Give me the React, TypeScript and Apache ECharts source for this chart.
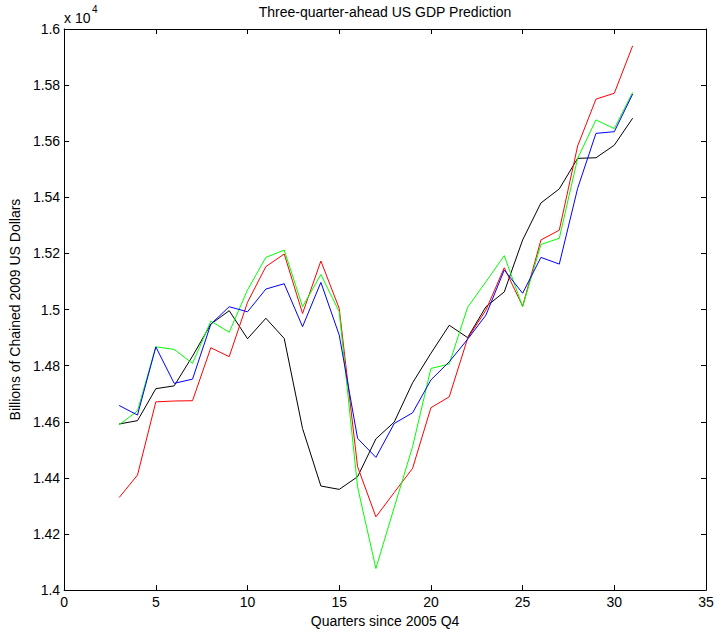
import React, { useEffect, useRef } from "react";
import * as echarts from "echarts";

const quarters = [3, 4, 5, 6, 7, 8, 9, 10, 11, 12, 13, 14, 15, 16, 17, 18, 19, 20, 21, 22, 23, 24, 25, 26, 27, 28, 29, 30, 31];
const actual = [14592, 14604, 14718, 14728, 14834, 14948, 14996, 14896, 14969, 14897, 14576, 14371, 14359, 14404, 14539, 14599, 14739, 14844, 14944, 14900, 15010, 15063, 15248, 15380, 15430, 15539, 15541, 15586, 15682];
const predRed = [14330, 14410, 14671, 14674, 14675, 14864, 14832, 15026, 15153, 15198, 14986, 15173, 15004, 14440, 14261, 14348, 14434, 14650, 14689, 14897, 14998, 15149, 15012, 15248, 15283, 15583, 15750, 15771, 15940];
const predGreen = [14589, 14639, 14867, 14858, 14808, 14959, 14919, 15070, 15186, 15212, 15010, 15125, 14992, 14368, 14077, 14295, 14511, 14790, 14806, 15008, 15099, 15192, 15010, 15232, 15254, 15539, 15676, 15645, 15774];
const predBlue = [14658, 14624, 14867, 14737, 14752, 14948, 15010, 14992, 15073, 15092, 14939, 15097, 14909, 14541, 14473, 14594, 14632, 14749, 14814, 14894, 14980, 15141, 15058, 15186, 15162, 15432, 15628, 15634, 15768];

const titleText = "Three-quarter-ahead US GDP Prediction";
const xName = "Quarters since 2005 Q4";
const yName = "Billions of Chained 2009 US Dollars";

const FONT = "Liberation Sans";

export default function App() {
  const ref = useRef<HTMLDivElement>(null);
  useEffect(() => {
    if (!ref.current) return;
    const chart = echarts.init(ref.current, null, { renderer: "svg" });
    const mk = (vals: number[], color: string, name: string) => ({
      type: "line",
      name,
      data: quarters.map((q, i) => [q, vals[i]]),
      showSymbol: false,
      symbol: "none",
      lineStyle: { color, width: 1 },
      itemStyle: { color },
      xAxisIndex: 0,
      yAxisIndex: 0,
    });
    const axisCommon = {
      axisLine: { show: true, onZero: false, lineStyle: { color: "#000", width: 1 } },
      axisTick: { show: true, inside: true, length: 5, lineStyle: { color: "#000", width: 1 } },
      splitLine: { show: false },
    };
    chart.setOption({
      animation: false,
      backgroundColor: "#fff",
      textStyle: { fontFamily: FONT },
      grid: { left: 64, top: 29, width: 642, height: 562, containLabel: false },
      xAxis: [
        {
          type: "value",
          min: 0,
          max: 35,
          interval: 5,
          position: "bottom",
          ...axisCommon,
          axisLabel: { color: "#000", fontSize: 14, fontFamily: FONT, margin: 5 },
          name: xName,
          nameLocation: "middle",
          nameGap: 23,
          nameTextStyle: { color: "#000", fontSize: 14, fontFamily: FONT },
        },
        {
          type: "value",
          min: 0,
          max: 35,
          interval: 5,
          position: "top",
          ...axisCommon,
          axisLabel: { show: false },
        },
      ],
      yAxis: [
        {
          type: "value",
          min: 14000,
          max: 16000,
          interval: 200,
          position: "left",
          ...axisCommon,
          axisLabel: {
            color: "#000",
            fontSize: 14,
            fontFamily: FONT,
            margin: 4,
            formatter: (v: number) => String(Number((v / 10000).toFixed(2))),
          },
          name: yName,
          nameLocation: "middle",
          nameGap: 41,
          nameTextStyle: { color: "#000", fontSize: 14, fontFamily: FONT },
        },
        {
          type: "value",
          min: 14000,
          max: 16000,
          interval: 200,
          position: "right",
          ...axisCommon,
          axisLabel: { show: false },
        },
      ],
      graphic: [
        {
          type: "text",
          x: 385,
          y: 5,
          style: { text: titleText, fill: "#000", font: `14px "${FONT}"`, textAlign: "center" },
        },
        {
          type: "text",
          x: 64,
          y: 11,
          style: { text: "x 10", fill: "#000", font: `14px "${FONT}"` },
        },
        {
          type: "text",
          x: 92,
          y: 4,
          style: { text: "4", fill: "#000", font: `10px "${FONT}"` },
        },
      ],
      series: [
        mk(actual, "#000000", "Actual"),
        mk(predRed, "#ff0000", "Model A"),
        mk(predGreen, "#00ff00", "Model B"),
        mk(predBlue, "#0000ff", "Model C"),
      ],
    });
    return () => chart.dispose();
  }, []);
  return (
    <div
      ref={ref}
      style={{ position: "fixed", left: 0, top: 0, width: 717, height: 633, background: "#fff" }}
    />
  );
}
